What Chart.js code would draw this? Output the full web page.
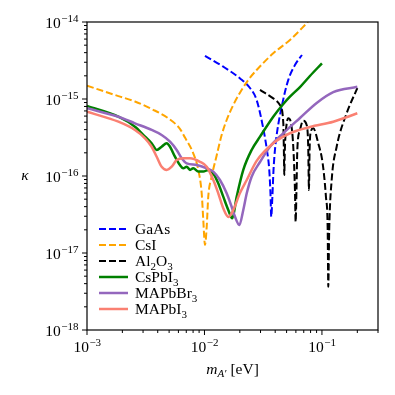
<!DOCTYPE html>
<html>
<head>
<meta charset="utf-8">
<script src="https://cdn.jsdelivr.net/npm/chart.js@4"></script>
<style>
html, body { margin: 0; padding: 0; background: #fff; }
</style>
</head>
<body>
<canvas id="chart" width="395" height="395"></canvas>
<script>
// x: m_A' [eV], y: kappa
var gaasM = [1.01e-2, 1.445e-2, 2.0e-2, 2.44e-2, 2.78e-2, 3.16e-2, 3.4e-2, 3.56e-2, 3.65e-2, 3.7e-2, 3.79e-2, 3.87e-2, 3.98e-2, 4.14e-2, 4.54e-2, 5.17e-2, 5.89e-2, 6.76e-2]
var gaasK = [3.62e-15, 2.63e-15, 1.86e-15, 1.39e-15, 9.7e-16, 4.2e-16, 2.18e-16, 1.2e-16, 5.67e-17, 2.96e-17, 5.67e-17, 1.2e-16, 2.18e-16, 3.62e-16, 7.94e-16, 1.77e-15, 2.76e-15, 3.73e-15]

var csiM = [1e-3, 1.85e-3, 2.56e-3, 3.55e-3, 4.92e-3, 6.18e-3, 6.82e-3, 8.03e-3, 8.86e-3, 9.47e-3, 9.77e-3, 1.01e-2, 1.045e-2, 1.077e-2, 1.151e-2, 1.27e-2, 1.4e-2, 1.545e-2, 1.76e-2, 2.0e-2, 2.36e-2, 2.78e-2, 3.85e-2, 5.34e-2, 7.6e-2]
var csiK = [1.49e-15, 1.09e-15, 9.28e-16, 7.41e-16, 5.61e-16, 4.1e-16, 3.16e-16, 1.97e-16, 1.2e-16, 5.96e-17, 2.68e-17, 1.27e-17, 2.2e-17, 5.39e-17, 9.8e-17, 1.85e-16, 3.4e-16, 5.34e-16, 8.36e-16, 1.2e-15, 1.77e-15, 2.38e-15, 3.92e-15, 5.84e-15, 1e-14]

var al2o3M = [2.97e-2, 3.85e-2, 4.39e-2, 4.69e-2, 4.74e-2, 4.78e-2, 4.83e-2, 4.94e-2, 5.17e-2, 5.42e-2, 5.7e-2, 5.89e-2, 5.97e-2, 6.07e-2, 6.17e-2, 6.5e-2, 6.93e-2, 7.41e-2, 7.64e-2, 7.75e-2, 7.85e-2, 7.98e-2, 8.43e-2, 9.3e-2, 0.1014, 0.1081, 0.1119, 0.1132, 0.1153, 0.121, 0.1334, 0.1622, 0.2]
var al2o3K = [1.31e-15, 1.02e-15, 8.36e-16, 4.83e-16, 2.18e-16, 1.03e-16, 2.18e-16, 3.96e-16, 5.61e-16, 5.07e-16, 2.4e-16, 6.58e-17, 2.55e-17, 6.58e-17, 2.18e-16, 3.96e-16, 5.23e-16, 4.6e-16, 2.4e-16, 6.58e-17, 2.18e-16, 3.59e-16, 4.16e-16, 2.66e-16, 1.46e-16, 5.39e-17, 1.99e-17, 3.65e-18, 1.99e-17, 8.87e-17, 2.4e-16, 6.52e-16, 1.38e-15]

var cspbi3M = [1e-3, 1.85e-3, 2.56e-3, 3.12e-3, 3.55e-3, 3.92e-3, 4.32e-3, 4.77e-3, 5.09e-3, 5.61e-3, 6.18e-3, 6.6e-3, 7.06e-3, 7.53e-3, 8.03e-3, 8.86e-3, 9.77e-3, 1.077e-2, 1.189e-2, 1.31e-2, 1.445e-2, 1.595e-2, 1.725e-2, 1.88e-2, 2.14e-2, 2.52e-2, 2.97e-2, 3.85e-2, 4.69e-2, 5.34e-2, 6.5e-2, 7.9e-2, 0.1]
var cspbi3K = [8.11e-16, 5.89e-16, 4.37e-16, 3.24e-16, 2.66e-16, 2.18e-16, 2.4e-16, 2.66e-16, 2.4e-16, 1.78e-16, 1.39e-16, 1.26e-16, 1.32e-16, 1.2e-16, 1.26e-16, 1.14e-16, 1.14e-16, 1.2e-16, 1.08e-16, 8.04e-17, 5.39e-17, 3.62e-17, 2.82e-17, 5.39e-17, 1.2e-16, 2.18e-16, 3.24e-16, 5.89e-16, 8.6e-16, 1.07e-15, 1.43e-15, 1.99e-15, 2.91e-15]

var mapbbr3M = [1e-3, 1.85e-3, 2.56e-3, 3.55e-3, 4.32e-3, 5.09e-3, 5.8e-3, 6.4e-3, 7.06e-3, 8.59e-3, 1.045e-2, 1.189e-2, 1.355e-2, 1.545e-2, 1.703e-2, 1.82e-2, 1.98e-2, 2.14e-2, 2.29e-2, 2.52e-2, 2.97e-2, 3.61e-2, 4.69e-2, 6.5e-2, 9.02e-2, 0.1248, 0.2]
var mapbbr3K = [7.57e-16, 5.89e-16, 4.83e-16, 3.96e-16, 3.41e-16, 2.79e-16, 2.18e-16, 1.7e-16, 1.46e-16, 1.39e-16, 1.26e-16, 1.14e-16, 8.87e-17, 5.96e-17, 3.99e-17, 2.96e-17, 2.31e-17, 3.62e-17, 5.96e-17, 9.8e-17, 1.52e-16, 2.4e-16, 3.59e-16, 5.67e-16, 8.9e-16, 1.23e-15, 1.44e-15]

var mapbi3M = [1e-3, 1.85e-3, 2.56e-3, 3.12e-3, 3.55e-3, 3.92e-3, 4.32e-3, 4.77e-3, 5.26e-3, 5.8e-3, 6.6e-3, 7.53e-3, 9.16e-3, 1.045e-2, 1.189e-2, 1.31e-2, 1.445e-2, 1.6e-2, 1.76e-2, 2.0e-2, 2.29e-2, 2.78e-2, 3.85e-2, 5.34e-2, 7.9e-2, 0.1248, 0.2]
var mapbi3K = [6.84e-16, 5.07e-16, 3.96e-16, 3.09e-16, 2.4e-16, 1.78e-16, 1.32e-16, 1.2e-16, 1.32e-16, 1.61e-16, 1.7e-16, 1.7e-16, 1.53e-16, 1.32e-16, 8.87e-17, 5.96e-17, 3.81e-17, 2.94e-17, 3.62e-17, 5.96e-17, 8.87e-17, 1.57e-16, 2.66e-16, 3.59e-16, 4.33e-16, 5.07e-16, 6.52e-16]

var names = ['GaAs', 'CsI', 'Al2O3', 'CsPbI3', 'MAPbBr3', 'MAPbI3']
var xTicks = [1e-3, 1e-2, 1e-1]
var yTicks = [1e-18, 1e-17, 1e-16, 1e-15, 1e-14]

var series = [[gaasM, gaasK], [csiM, csiK], [al2o3M, al2o3K], [cspbi3M, cspbi3K], [mapbbr3M, mapbbr3K], [mapbi3M, mapbi3K]]
var colors = ['#0000ff', '#ffa500', '#000000', '#008000', '#9467bd', '#fa8072']
var dashed = [true, true, true, false, false, false]

var SERIF = '"Liberation Serif", "DejaVu Serif", serif'
var MAIN = '15.5px ' + SERIF
var SMALL = '11px ' + SERIF

function toPoints(xs, ys) {
    return xs.map(function (x, i) { return {x: x, y: ys[i]} })
}

// draws e.g. "Al2O3" with the digits as subscripts
function drawChem(ctx, text, x, y) {
    for (var i = 0; i < text.length; i++) {
        var c = text[i]
        if (c >= '0' && c <= '9') {
            ctx.font = SMALL
            ctx.fillText(c, x, y + 4)
        } else {
            ctx.font = MAIN
            ctx.fillText(c, x, y)
        }
        x += ctx.measureText(c).width
    }
}

function drawPower(ctx, value, x, y, align) {
    var exp = Math.round(Math.log10(value))
    var sup = '\u2212' + Math.abs(exp)
    ctx.font = MAIN
    var w1 = ctx.measureText('10').width
    ctx.font = SMALL
    var w2 = ctx.measureText(sup).width
    var x0 = align == 'center' ? x - (w1 + w2) / 2 : x - (w1 + w2)
    ctx.font = MAIN
    ctx.fillText('10', x0, y)
    ctx.font = SMALL
    ctx.fillText(sup, x0 + w1 + 0.5, y - 6)
}

var axesPlugin = {
    id: 'axesPlugin',
    afterDraw: function (chart) {
        var ctx = chart.ctx
        var a = chart.chartArea
        var xs = chart.scales.x
        var ys = chart.scales.y
        ctx.save()
        ctx.strokeStyle = '#000'
        ctx.fillStyle = '#000'
        ctx.lineWidth = 1.2
        ctx.strokeRect(a.left, a.top, a.right - a.left, a.bottom - a.top)

        // major + minor ticks, pointing out
        ctx.beginPath()
        for (var i = 0; i < xTicks.length; i++) {
            for (var m = 1; m <= 9; m++) {
                var v = m * xTicks[i]
                if (v > xs.max * 1.0001) continue
                var p = xs.getPixelForValue(v)
                ctx.moveTo(p, a.bottom)
                ctx.lineTo(p, a.bottom + (m == 1 ? 5 : 3))
            }
        }
        for (var i = 0; i < yTicks.length; i++) {
            for (var m = 1; m <= 9; m++) {
                var v = m * yTicks[i]
                if (v > ys.max * 1.0001) continue
                var p = ys.getPixelForValue(v)
                ctx.moveTo(a.left, p)
                ctx.lineTo(a.left - (m == 1 ? 5 : 3), p)
            }
        }
        ctx.lineWidth = 1
        ctx.stroke()

        ctx.textBaseline = 'alphabetic'
        ctx.textAlign = 'left'
        xTicks.forEach(function (t) {
            drawPower(ctx, t, xs.getPixelForValue(t), a.bottom + 22, 'center')
        })
        yTicks.forEach(function (t) {
            drawPower(ctx, t, a.left - 9, ys.getPixelForValue(t) + 6, 'right')
        })

        // axis titles
        ctx.font = 'italic ' + MAIN
        ctx.textAlign = 'center'
        ctx.fillText('\u03ba', 25, (a.top + a.bottom) / 2 + 4)

        ctx.textAlign = 'left'
        ctx.font = 'italic ' + MAIN
        var wm = ctx.measureText('m').width
        ctx.font = 'italic ' + SMALL
        var ws = ctx.measureText('A\u2032').width
        ctx.font = MAIN
        var we = ctx.measureText(' [eV]').width
        var tx = (a.left + a.right) / 2 - (wm + ws + we) / 2
        var ty = a.bottom + 44
        ctx.font = 'italic ' + MAIN
        ctx.fillText('m', tx, ty)
        ctx.font = 'italic ' + SMALL
        ctx.fillText('A\u2032', tx + wm, ty + 3)
        ctx.font = MAIN
        ctx.fillText(' [eV]', tx + wm + ws, ty)

        // legend
        var lx = a.left + 12
        var ly = a.bottom - 101
        for (var i = 0; i < names.length; i++) {
            var yy = ly + i * 16
            ctx.beginPath()
            ctx.strokeStyle = colors[i]
            ctx.lineWidth = dashed[i] ? 2 : 2.5
            ctx.setLineDash(dashed[i] ? [7, 3] : [])
            ctx.moveTo(lx, yy)
            ctx.lineTo(lx + 29, yy)
            ctx.stroke()
            ctx.setLineDash([])
            ctx.fillStyle = '#000'
            drawChem(ctx, names[i], lx + 36, yy + 5)
        }
        ctx.restore()
    }
}

var datasets = series.map(function (s, i) {
    return {
        label: names[i],
        data: toPoints(s[0], s[1]),
        borderColor: colors[i],
        borderWidth: dashed[i] ? 2 : 2.5,
        borderDash: dashed[i] ? [7, 3] : [],
        borderJoinStyle: 'round',
        cubicInterpolationMode: 'monotone',
        pointRadius: 0,
        fill: false,
        order: names.length - i
    }
})

new Chart(document.getElementById('chart'), {
    type: 'line',
    data: {datasets: datasets},
    options: {
        responsive: false,
        animation: false,
        events: [],
        layout: {padding: {top: 22, right: 17, left: 0, bottom: 0}},
        plugins: {legend: {display: false}, tooltip: {enabled: false}},
        scales: {
            x: {
                type: 'logarithmic', min: 1e-3, max: 0.3,
                ticks: {display: false}, grid: {display: false}, border: {display: false},
                afterFit: function (s) { s.height = 65 }
            },
            y: {
                type: 'logarithmic', min: 1e-18, max: 1e-14,
                ticks: {display: false}, grid: {display: false}, border: {display: false},
                afterFit: function (s) { s.width = 87 }
            }
        }
    },
    plugins: [axesPlugin]
})
</script>
</body>
</html>
